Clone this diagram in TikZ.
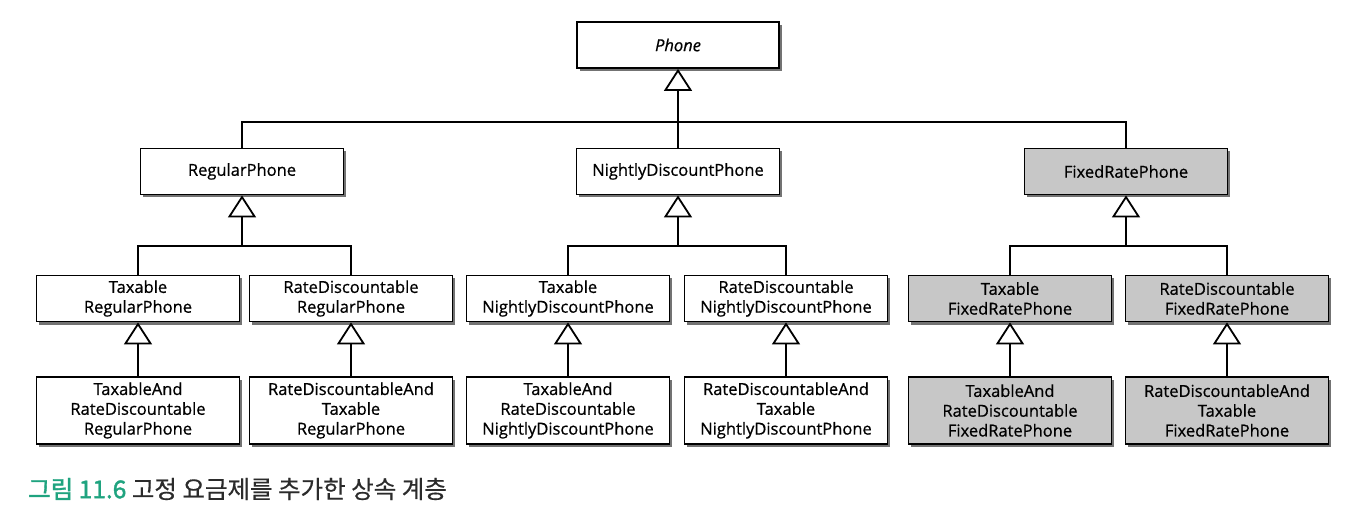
\documentclass[tikz,border=0pt]{standalone}
\usepackage{fontspec}
\setmainfont{Open Sans}
\newfontfamily\boxfont{Open Sans}[FakeBold=0.7]
\newfontfamily\krfont{Noto Sans CJK KR}[FakeBold=0.5]
\newfontfamily\krbold{Noto Sans CJK KR}[FakeBold=1.6]
\usetikzlibrary{arrows.meta,shadows}
\definecolor{capgreen}{HTML}{1FA37F}
\definecolor{captext}{HTML}{2B2B2B}
\tikzset{
  cls/.style={draw=black, line width=1.8pt, fill=white, minimum width=203pt,
    minimum height=46pt, inner sep=0pt, align=center,
    font=\boxfont\fontsize{16.5}{19.8}\selectfont,
    drop shadow={shadow xshift=2.5pt, shadow yshift=-3pt, opacity=0.55, fill=black}},
  tall/.style={minimum height=67pt},
  fixed/.style={fill=black!22},
  inh/.style={line width=1.8pt, -{Triangle[open,width=28pt,length=22pt,line width=1.8pt]}},
  link/.style={line width=1.8pt}
}
\begin{document}
\begin{tikzpicture}[x=1pt,y=-1pt]
\useasboundingbox (0,0) rectangle (1364,518);
% level 1
\node[cls, minimum width=202pt] (phone) at (678,45) {\itshape Phone};
% level 2
\node[cls] (reg) at (242,171.5) {RegularPhone};
\node[cls] (nig) at (678,171.5) {NightlyDiscountPhone};
\node[cls,fixed] (fix) at (1126,171.5) {FixedRatePhone};
% level 3
\node[cls] (tr) at (138,298.5) {Taxable\\RegularPhone};
\node[cls] (rr) at (351,298.5) {RateDiscountable\\RegularPhone};
\node[cls] (tn) at (568,298.5) {Taxable\\NightlyDiscountPhone};
\node[cls] (rn) at (786,298.5) {RateDiscountable\\NightlyDiscountPhone};
\node[cls,fixed] (tf) at (1010,298.5) {Taxable\\FixedRatePhone};
\node[cls,fixed] (rf) at (1227,298.5) {RateDiscountable\\FixedRatePhone};
% level 4
\node[cls,tall] (trr) at (138,410.5) {TaxableAnd\\RateDiscountable\\RegularPhone};
\node[cls,tall] (rtr) at (351,410.5) {RateDiscountableAnd\\Taxable\\RegularPhone};
\node[cls,tall] (trn) at (568,410.5) {TaxableAnd\\RateDiscountable\\NightlyDiscountPhone};
\node[cls,tall] (rtn) at (786,410.5) {RateDiscountableAnd\\Taxable\\NightlyDiscountPhone};
\node[cls,tall,fixed] (trf) at (1010,410.5) {TaxableAnd\\RateDiscountable\\FixedRatePhone};
\node[cls,tall,fixed] (rtf) at (1227,410.5) {RateDiscountableAnd\\Taxable\\FixedRatePhone};
% junctions
\coordinate (j1) at (678,122);
\coordinate (j2a) at (242,246);
\coordinate (j2b) at (678,246);
\coordinate (j2c) at (1126,246);
% level 1 connectors
\draw[inh] (j1) -- (phone.south);
\draw[link] (reg.north) |- (j1);
\draw[link] (nig.north) -- (j1);
\draw[link] (fix.north) |- (j1);
% level 2 connectors
\draw[inh] (j2a) -- (reg.south);
\draw[link] (tr.north) |- (j2a);
\draw[link] (rr.north) |- (j2a);
\draw[inh] (j2b) -- (nig.south);
\draw[link] (tn.north) |- (j2b);
\draw[link] (rn.north) |- (j2b);
\draw[inh] (j2c) -- (fix.south);
\draw[link] (tf.north) |- (j2c);
\draw[link] (rf.north) |- (j2c);
% level 3 connectors
\draw[inh] (trr.north) -- (tr.south);
\draw[inh] (rtr.north) -- (rr.south);
\draw[inh] (trn.north) -- (tn.south);
\draw[inh] (rtn.north) -- (rn.south);
\draw[inh] (trf.north) -- (tf.south);
\draw[inh] (rtf.north) -- (rf.south);
% caption
\node[anchor=west, inner sep=0pt, font=\krfont\fontsize{24.5}{28}\selectfont] (cap) at (28,489)
  {\textcolor{capgreen}{\krbold 그림 11.6}\ \textcolor{captext}{고정 요금제를 추가한 상속 계층}};
\end{tikzpicture}
\end{document}
